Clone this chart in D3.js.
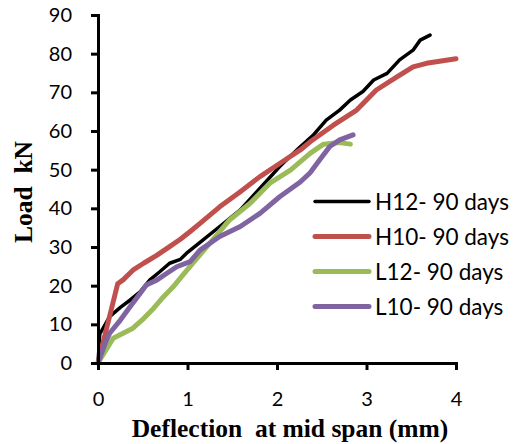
<!DOCTYPE html>
<html>
<head>
  <script src="https://d3js.org/d3.v7.min.js"></script>
  <style>
    body { margin: 0; background: #fff; }
  </style>
</head>
<body>
  <div id="chart"></div>

  <script>
    // deflection (mm) and load (kN)
    var h12Defl = [0, 0.02, 0.13, 0.25, 0.36, 0.47, 0.58, 0.69, 0.8, 0.92, 0.99, 1.14, 1.36, 1.59, 1.81, 2.03, 2.26, 2.4, 2.55, 2.7, 2.82, 2.96, 3.08, 3.23, 3.37, 3.52, 3.6, 3.71];
    var h12Load = [0, 7.5, 12, 14.4, 16.3, 18.4, 21.5, 23.6, 25.8, 26.8, 28.4, 31.2, 35.3, 39.6, 45.2, 50.8, 55.9, 58.8, 62.8, 65.4, 68.0, 70.2, 73.2, 74.9, 78.4, 80.9, 83.5, 84.8];

    var h10Defl = [0, 0.22, 0.28, 0.39, 0.51, 0.66, 0.8, 0.92, 1.03, 1.14, 1.36, 1.59, 1.81, 2.03, 2.26, 2.37, 2.63, 2.89, 3.11, 3.34, 3.52, 3.67, 4.0];
    var h10Load = [0, 20.5, 21.5, 24, 25.8, 27.9, 30.1, 32, 34, 36.1, 40.4, 44.3, 48.2, 51.6, 55.1, 57.2, 61.5, 65.4, 70.6, 74, 76.6, 77.5, 78.7];

    var l12Defl = [0, 0.17, 0.28, 0.39, 0.51, 0.62, 0.73, 0.84, 0.95, 1.06, 1.25, 1.47, 1.7, 1.92, 2.15, 2.37, 2.52, 2.7, 2.82];
    var l12Load = [0, 6.4, 7.7, 9, 11.5, 14.1, 17.1, 19.7, 22.8, 25.8, 31, 37, 41.3, 46.5, 49.9, 54.2, 56.6, 57, 56.6];

    var l10Defl = [0, 0.08, 0.13, 0.25, 0.36, 0.47, 0.54, 0.66, 0.77, 0.88, 1.03, 1.14, 1.36, 1.59, 1.81, 2.03, 2.26, 2.37, 2.48, 2.59, 2.7, 2.85];
    var l10Load = [0, 5.1, 7.7, 11.1, 14.6, 18, 20.2, 21.5, 23.2, 24.9, 26.2, 29.2, 32.7, 35.3, 38.7, 43, 46.8, 49.2, 52.6, 56, 57.7, 59];

    var seriesNames = ["H12- 90 days", "H10- 90 days", "L12- 90 days", "L10- 90 days"];
    var xTicks = [0, 1, 2, 3, 4];
    var yTicks = [0, 10, 20, 30, 40, 50, 60, 70, 80, 90];

    var series = [
      {name: seriesNames[0], x: h12Defl, y: h12Load, color: "#000000", w: 3.5},
      {name: seriesNames[1], x: h10Defl, y: h10Load, color: "#C0504D", w: 5},
      {name: seriesNames[2], x: l12Defl, y: l12Load, color: "#9BBB59", w: 5},
      {name: seriesNames[3], x: l10Defl, y: l10Load, color: "#8064A2", w: 5}
    ];

    var W = 522, H = 444;
    var margin = {top: 15, right: 66, bottom: 81, left: 98},
        width = W - margin.left - margin.right,
        height = H - margin.top - margin.bottom;

    var svg = d3.select("#chart").append("svg")
      .attr("width", W)
      .attr("height", H);

    var g = svg.append("g")
      .attr("transform", "translate(" + margin.left + "," + margin.top + ")");

    var x = d3.scaleLinear().domain([0, 4]).range([0, width]);
    var y = d3.scaleLinear().domain([0, 90]).range([height, 0]);

    var line = d3.line()
      .x(function(d) { return x(d[0]); })
      .y(function(d) { return y(d[1]); })
      .curve(d3.curveLinear);

    series.forEach(function(s) {
      g.append("path")
        .datum(d3.zip(s.x, s.y))
        .attr("fill", "none")
        .attr("stroke", s.color)
        .attr("stroke-width", s.w)
        .attr("stroke-linejoin", "round")
        .attr("stroke-linecap", "round")
        .attr("d", line);
    });

    var xAxis = g.append("g")
      .attr("transform", "translate(0," + height + ")")
      .call(d3.axisBottom(x).tickValues(xTicks).tickSize(7).tickPadding(22).tickFormat(d3.format("d")));

    var yAxis = g.append("g")
      .call(d3.axisLeft(y).tickValues(yTicks).tickSize(7).tickPadding(19).tickFormat(d3.format("d")));

    [xAxis, yAxis].forEach(function(a) {
      a.select(".domain").attr("stroke", "#000").attr("stroke-width", 3);
      a.selectAll(".tick line").attr("stroke", "#000").attr("stroke-width", 3);
      a.selectAll(".tick text")
        .attr("fill", "#000")
        .style("font-family", "Lato, 'Open Sans', sans-serif")
        .style("font-size", "20px");
    });

    svg.append("text")
      .attr("x", 290)
      .attr("y", 437)
      .attr("text-anchor", "middle")
      .style("font-family", "'Liberation Serif', 'Times New Roman', serif")
      .style("font-weight", "bold")
      .style("font-size", "25.5px")
      .style("white-space", "pre")
      .text("Deflection  at mid span (mm)");

    svg.append("text")
      .attr("transform", "translate(32,192) rotate(-90)")
      .attr("text-anchor", "middle")
      .style("font-family", "'Liberation Serif', 'Times New Roman', serif")
      .style("font-weight", "bold")
      .style("font-size", "25.5px")
      .style("white-space", "pre")
      .text("Load  kN");

    var legend = svg.append("g").attr("transform", "translate(315,201.5)");
    series.forEach(function(s, i) {
      var row = legend.append("g").attr("transform", "translate(0," + (i * 35) + ")");
      row.append("line")
        .attr("x1", 0).attr("x2", 54)
        .attr("stroke", s.color)
        .attr("stroke-width", s.w)
        .attr("stroke-linecap", "round");
      row.append("text")
        .attr("x", 60)
        .attr("y", 8)
        .style("font-family", "Lato, 'Open Sans', sans-serif")
        .style("font-size", "22.5px")
        .text(s.name);
    });
  </script>
</body>
</html>
